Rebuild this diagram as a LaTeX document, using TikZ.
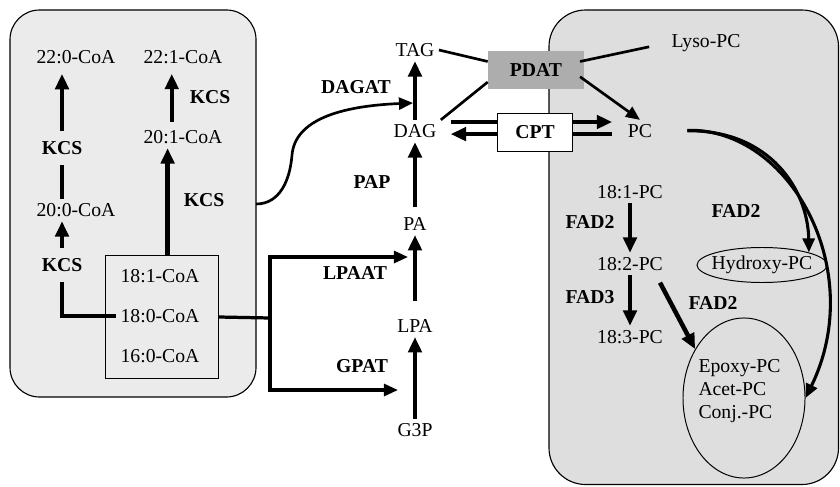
\documentclass[tikz,border=0pt]{standalone}
\usepackage{fontspec}
\setmainfont{Liberation Serif}
\usepackage{tikz}
\usetikzlibrary{arrows.meta, positioning, shapes.geometric, calc}

\definecolor{erfill}{HTML}{EBEBEB}
\definecolor{plfill}{HTML}{DEDEDE}
\definecolor{pdatfill}{HTML}{ADADAD}

\begin{document}
\begin{tikzpicture}[
  x=0.025cm, y=-0.025cm,
  >={Triangle[length=11pt, width=9.5pt]},
  met/.style={font=\fontsize{14}{16.5}\selectfont, inner sep=3pt},
  enz/.style={font=\fontsize{14}{16.5}\selectfont\bfseries, inner sep=3pt},
  gap/.style={enz, inner sep=7pt},
  conv/.style={->, line width=3.2pt},
  feed/.style={->, line width=2.2pt, >={Triangle[length=10pt, width=8.5pt]}},
  link/.style={line width=2.3pt},
]
\useasboundingbox (0,0) rectangle (840,486);

% --- Compartments ---
\draw[fill=plfill, line width=0.8pt, rounded corners=26pt] (549,10) rectangle (838.5,484.5);
\draw[fill=erfill, line width=0.8pt, rounded corners=21pt] (10,10) rectangle (256,397);

% --- Acyl-CoA pool ---
\node[draw, fill=erfill, line width=0.7pt, minimum width=2.8cm, minimum height=3.05cm] (pool) at (162,317) {};
\node[met] (c181) at (160,276) {18:1-CoA};
\node[met] (c180) at (160,316) {18:0-CoA};
\node[met] (c160) at (160,356) {16:0-CoA};

% --- Elongation ---
\node[met] (c200) at (76,210) {20:0-CoA};
\node[met] (c220) at (76,57) {22:0-CoA};
\node[met] (c201) at (183,137) {20:1-CoA};
\node[met] (c221) at (183,57) {22:1-CoA};
\node[gap] (kcsa) at (62,148) {KCS};
\node[gap] (kcsb) at (62,265) {KCS};
\node[enz] (kcsc) at (210,97) {KCS};
\node[enz] (kcsd) at (204,200) {KCS};

\draw[link] (kcsb.south) |- (c180.west);
\draw[conv] (kcsb.north) -- (kcsb.north |- c200.south);
\draw[line width=3.2pt] (c200.north -| kcsa) -- (kcsa.south);
\draw[conv, shorten >=4pt] (kcsa.north) -- (kcsa.north |- c220.south);
\draw[conv] ([xshift=4pt]pool.north) -- ([xshift=4pt]pool.north |- c201.south);
\draw[conv, shorten <=3pt, shorten >=4pt] ([xshift=-8pt]c201.north) -- ([xshift=-8pt]c201.north |- c221.south);

% --- Kennedy pathway ---
\node[met] (tag) at (415,50) {TAG};
\node[met] (dag) at (415,131) {DAG};
\node[met] (pa) at (415,224) {PA};
\node[met] (lpa) at (415,326) {LPA};
\node[met] (g3p) at (415,430) {G3P};
\node[enz] (dagat) at (356,87) {DAGAT};
\node[enz] (pap) at (372,182) {PAP};
\node[enz] (lpaat) at (355,273) {LPAAT};
\node[enz] (gpat) at (362,366) {GPAT};

\draw[conv] (g3p) -- (lpa);
\draw[conv, shorten <=10pt] (lpa) -- (pa);
\draw[conv, shorten <=4pt] (pa) -- (dag);
\draw[conv] (dag) -- (tag);

\coordinate (fork) at (270,318);
\coordinate (lpain) at (408,257);
\coordinate (g3pin) at (398,390);
\draw[link] (pool.east) -- (fork);
\draw[feed] (fork) |- (lpain);
\draw[feed] (fork) |- (g3pin);

\coordinate (kcsout) at (256,204);
\coordinate (dagin) at (413,103);
\draw[feed, line width=1.9pt] (kcsout) .. controls (280,204) and (290,180) .. (292,155)
  .. controls (295,120) and (340,106) .. (dagin);

% --- PDAT / CPT ---
\node[met] (lyso) at (706,43) {Lyso-PC};
\node[met] (pc) at (640,131) {PC};
\draw[conv, line width=3.3pt, shorten <=7pt, shorten >=8pt] ([yshift=6.4pt]dag.east) -- ([yshift=6.4pt]pc.west);
\draw[conv, line width=3.3pt, shorten <=8pt, shorten >=7pt] ([yshift=-2.2pt]pc.west) -- ([yshift=-2.2pt]dag.east);
\node[fill=pdatfill, enz, minimum width=2.4cm, minimum height=0.925cm] (pdat) at (536,70) {PDAT};
\node[draw, fill=white, enz, line width=0.7pt, minimum width=1.875cm, minimum height=0.95cm] (cpt) at (535,132) {CPT};

\draw[link, line width=1.9pt] (tag.east) -- (pdat.170);
\draw[link, line width=1.9pt] (dag.north east) -- (pdat.194);
\draw[link, line width=1.9pt, shorten >=13pt] ([xshift=-3pt]pdat.10) -- (lyso.west);
\draw[feed, line width=1.9pt] ([xshift=-3pt]pdat.-8) -- (pc.north);

% --- PC modification ---
\node[met] (pc181) at (630,192) {18:1-PC};
\node[met] (pc182) at (630,264) {18:2-PC};
\node[met] (pc183) at (630,337) {18:3-PC};
\node[enz] (fad2a) at (590,222) {FAD2};
\node[enz] (fad2b) at (736,211) {FAD2};
\node[enz] (fad3) at (590,297) {FAD3};
\node[enz] (fad2c) at (713,303) {FAD2};

\node[draw, ellipse, line width=0.7pt, minimum width=3.25cm, minimum height=0.875cm, inner sep=0pt] (hydro) at (762,265) {};
\node[met] (hydrotxt) at (hydro) {Hydroxy-PC};
\node[draw, ellipse, line width=0.7pt, minimum width=3.05cm, minimum height=4cm, inner sep=0pt] (epox) at (744,398) {};
\node[met, align=left, anchor=west] (epoxtxt) at (694,391) {Epoxy-PC\\Acet-PC\\Conj.-PC};

\draw[conv] (pc181) -- (pc182);
\draw[conv] (pc182) -- (pc183);
\draw[conv, shorten <=6pt] ([xshift=-8pt]pc182.south east) -- (epox.135);
\draw[feed, shorten <=22pt] (pc.east) .. controls (770,130) and (808,190) .. (hydro.15);
\draw[feed, shorten <=22pt] (pc.east) .. controls (790,128) and (868,270) .. (epox.east);

\end{tikzpicture}
\end{document}
